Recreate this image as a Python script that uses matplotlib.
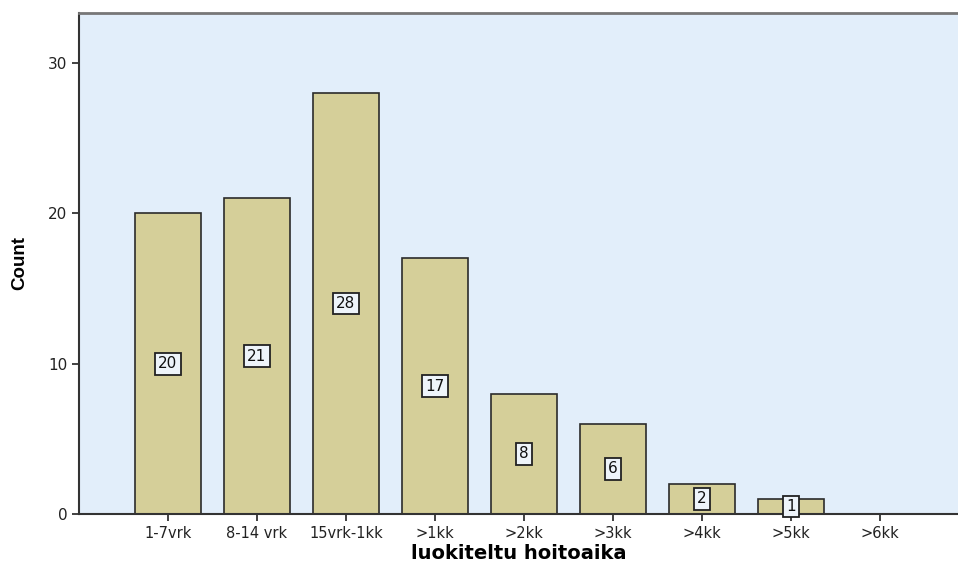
import matplotlib.pyplot as plt

categories = ['1-7vrk', '8-14 vrk', '15vrk-1kk', '>1kk', '>2kk', '>3kk', '>4kk', '>5kk', '>6kk']
counts = [20, 21, 28, 17, 8, 6, 2, 1, 0]
yticks = [0, 10, 20, 30]

plt.rcParams['font.family'] = ['Liberation Sans', 'DejaVu Sans']

fig = plt.figure(figsize=(9.58, 5.65), dpi=100)
ax = fig.add_axes([0.0825, 0.0903, 0.9175, 0.8867])
ax.set_facecolor('#e2eefa')

x = list(range(len(categories)))
ax.bar(x, counts, width=0.74, color='#d5cf99', edgecolor='#2b2b2b', linewidth=1.2, zorder=2)

# count labels in boxes at half the bar height
for i, c in enumerate(counts):
    if c > 0:
        ax.text(i, c / 2, str(c), ha='center', va='center', fontsize=11, color='#111111', zorder=3,
                family='DejaVu Sans',
                bbox=dict(boxstyle='square,pad=0.22', facecolor='#eef4fa', edgecolor='#222222', linewidth=1.3))

ax.set_xlim(-1, 8.88)
ax.set_ylim(0, 33.33)
ax.set_xticks(x)
ax.set_xticklabels(categories, fontsize=10.5, color='#222222', family='DejaVu Sans')
ax.set_yticks(yticks)
ax.set_yticklabels([str(t) for t in yticks], fontsize=11, color='#222222', family='DejaVu Sans')
ax.tick_params(axis='both', direction='out', length=5, width=1.3, color='#333333')

ax.spines['right'].set_visible(False)
ax.spines['top'].set_color('#777777')
ax.spines['top'].set_linewidth(2)
for s in ['left', 'bottom']:
    ax.spines[s].set_color('#333333')
    ax.spines[s].set_linewidth(1.5)

ax.set_ylabel('Count', fontsize=13.5, fontweight='bold', labelpad=14)
ax.set_xlabel('luokiteltu hoitoaika', fontsize=14, fontweight='bold', labelpad=2, family='DejaVu Sans')

fig.savefig('out.png', dpi=100)
